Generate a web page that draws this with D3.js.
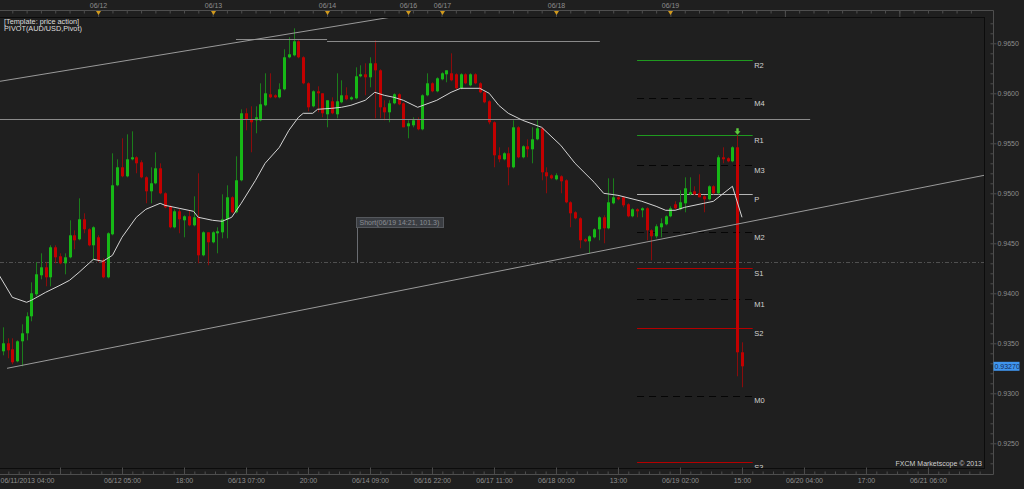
<!DOCTYPE html>
<html>
<head>
<meta charset="utf-8">
<script src="https://cdn.jsdelivr.net/npm/d3@7/dist/d3.min.js"></script>
<style>
html,body{margin:0;padding:0;background:#1f1f1f;overflow:hidden;}
svg{display:block;}
</style>
</head>
<body>
<svg id="chart" width="1024" height="489"></svg>
<script>
// ================= DATA =================
const openPrices = [
0.9353,0.9342,0.9350,0.9344,0.9332,0.9352,0.9360,0.9377,0.9399,0.9418,
0.9426,0.9416,0.9446,0.9437,0.9430,0.9436,0.9458,0.9454,0.9474,0.9464,
0.9448,0.9456,0.9433,0.9416,0.9459,0.9508,0.9526,0.9517,0.9534,0.9536,
0.9531,0.9516,0.9502,0.9510,0.9525,0.9500,0.9487,0.9466,0.9482,0.9473,
0.9477,0.9468,0.9476,0.9438,0.9461,0.9451,0.9460,0.9461,0.9474,0.9496,
0.9481,0.9513,0.9580,0.9574,0.9573,0.9573,0.9588,0.9599,0.9598,0.9596,
0.9604,0.9636,0.9638,0.9652,0.9636,0.9610,0.9587,0.9602,0.9600,0.9579,
0.9592,0.9579,0.9591,0.9598,0.9594,0.9595,0.9617,0.9619,0.9616,0.9630,
0.9623,0.9586,0.9581,0.9590,0.9599,0.9590,0.9567,0.9568,0.9574,0.9564,
0.9598,0.9610,0.9602,0.9614,0.9619,0.9620,0.9619,0.9605,0.9619,0.9608,
0.9619,0.9610,0.9601,0.9592,0.9571,0.9538,0.9534,0.9540,0.9526,0.9566,
0.9536,0.9547,0.9544,0.9554,0.9565,0.9521,0.9518,0.9514,0.9517,0.9513,
0.9491,0.9481,0.9475,0.9454,0.9452,0.9456,0.9464,0.9476,0.9465,0.9490,
0.9496,0.9496,0.9489,0.9477,0.9484,0.9483,0.9485,0.9463,0.9457,0.9466,
0.9469,0.9477,0.9489,0.9484,0.9490,0.9499,0.9502,0.9500,0.9497,0.9494,
0.9507,0.9500,0.9536,0.9535,0.9532,0.9546,0.9341];
const highPrices = [
0.9358,0.9366,0.9355,0.9355,0.9353,0.9369,0.9381,0.9411,0.9431,0.9440,
0.9431,0.9448,0.9448,0.9440,0.9440,0.9473,0.9463,0.9495,0.9480,0.9465,
0.9467,0.9458,0.9435,0.9461,0.9540,0.9534,0.9555,0.9559,0.9562,0.9537,
0.9533,0.9517,0.9526,0.9541,0.9530,0.9501,0.9488,0.9484,0.9485,0.9478,
0.9483,0.9497,0.9520,0.9462,0.9461,0.9462,0.9466,0.9499,0.9508,0.9497,
0.9537,0.9584,0.9585,0.9587,0.9587,0.9610,0.9620,0.9620,0.9599,0.9610,
0.9644,0.9656,0.9665,0.9653,0.9637,0.9611,0.9603,0.9607,0.9600,0.9593,
0.9596,0.9620,0.9613,0.9606,0.9597,0.9626,0.9628,0.9630,0.9636,0.9653,
0.9624,0.9593,0.9593,0.9600,0.9600,0.9591,0.9573,0.9576,0.9576,0.9599,
0.9620,0.9611,0.9616,0.9621,0.9623,0.9640,0.9620,0.9620,0.9620,0.9620,
0.9620,0.9611,0.9602,0.9593,0.9572,0.9546,0.9541,0.9546,0.9573,0.9567,
0.9548,0.9554,0.9566,0.9573,0.9566,0.9526,0.9519,0.9520,0.9518,0.9514,
0.9492,0.9482,0.9476,0.9455,0.9458,0.9465,0.9477,0.9478,0.9515,0.9515,
0.9497,0.9497,0.9490,0.9485,0.9485,0.9486,0.9486,0.9464,0.9469,0.9475,
0.9478,0.9487,0.9492,0.9503,0.9516,0.9516,0.9507,0.9519,0.9498,0.9508,
0.9508,0.9538,0.9546,0.9536,0.9547,0.9558,0.9351];
const lowPrices = [
0.9341,0.9338,0.9335,0.9329,0.9331,0.9327,0.9353,0.9372,0.9397,0.9414,
0.9407,0.9407,0.9430,0.9429,0.9419,0.9435,0.9444,0.9453,0.9460,0.9447,
0.9433,0.9431,0.9415,0.9415,0.9458,0.9507,0.9516,0.9516,0.9533,0.9520,
0.9515,0.9490,0.9490,0.9509,0.9499,0.9485,0.9465,0.9465,0.9460,0.9456,
0.9467,0.9467,0.9430,0.9437,0.9428,0.9450,0.9440,0.9455,0.9455,0.9480,
0.9480,0.9512,0.9563,0.9541,0.9560,0.9572,0.9587,0.9595,0.9595,0.9595,
0.9603,0.9635,0.9637,0.9635,0.9609,0.9582,0.9586,0.9581,0.9576,0.9566,
0.9579,0.9575,0.9590,0.9593,0.9593,0.9594,0.9616,0.9598,0.9606,0.9575,
0.9575,0.9573,0.9571,0.9589,0.9588,0.9566,0.9555,0.9566,0.9563,0.9563,
0.9597,0.9601,0.9601,0.9613,0.9611,0.9612,0.9604,0.9604,0.9609,0.9607,
0.9609,0.9600,0.9590,0.9569,0.9526,0.9531,0.9533,0.9508,0.9525,0.9535,
0.9535,0.9536,0.9530,0.9553,0.9513,0.9500,0.9514,0.9513,0.9500,0.9490,
0.9466,0.9474,0.9445,0.9451,0.9440,0.9455,0.9453,0.9450,0.9464,0.9489,
0.9493,0.9486,0.9476,0.9476,0.9476,0.9476,0.9453,0.9433,0.9455,0.9456,
0.9468,0.9476,0.9484,0.9483,0.9481,0.9498,0.9498,0.9496,0.9481,0.9493,
0.9499,0.9499,0.9530,0.9531,0.9531,0.9317,0.9306];
const closePrices = [
0.9345,0.9350,0.9343,0.9331,0.9352,0.9360,0.9377,0.9400,0.9419,0.9426,
0.9416,0.9446,0.9436,0.9430,0.9436,0.9458,0.9453,0.9474,0.9464,0.9448,
0.9466,0.9433,0.9416,0.9460,0.9508,0.9526,0.9517,0.9534,0.9536,0.9530,
0.9516,0.9502,0.9510,0.9525,0.9500,0.9486,0.9466,0.9482,0.9474,0.9477,
0.9468,0.9476,0.9438,0.9461,0.9451,0.9461,0.9462,0.9474,0.9496,0.9481,
0.9513,0.9580,0.9574,0.9571,0.9576,0.9589,0.9600,0.9596,0.9596,0.9604,
0.9636,0.9639,0.9652,0.9636,0.9610,0.9586,0.9602,0.9600,0.9580,0.9593,
0.9580,0.9592,0.9598,0.9594,0.9596,0.9617,0.9619,0.9616,0.9630,0.9623,
0.9586,0.9581,0.9590,0.9599,0.9589,0.9566,0.9570,0.9573,0.9564,0.9598,
0.9610,0.9602,0.9615,0.9620,0.9623,0.9613,0.9605,0.9619,0.9610,0.9619,
0.9610,0.9601,0.9591,0.9571,0.9538,0.9534,0.9540,0.9526,0.9566,0.9536,
0.9547,0.9544,0.9554,0.9565,0.9521,0.9517,0.9515,0.9518,0.9512,0.9491,
0.9480,0.9475,0.9453,0.9452,0.9457,0.9464,0.9476,0.9465,0.9491,0.9496,
0.9494,0.9488,0.9477,0.9484,0.9482,0.9485,0.9463,0.9457,0.9467,0.9470,
0.9477,0.9485,0.9485,0.9491,0.9505,0.9501,0.9499,0.9496,0.9494,0.9507,
0.9500,0.9536,0.9534,0.9532,0.9546,0.9341,0.9327];

// moving average, sampled at bar indices
const maBars = [0,3,6,7,10,13,15,17,20,22,24,26,29,31,34,35,38,41,42,45,47,49,51,54,56,59,61,63,64,66,67,70,72,74,77,79,81,83,85,88,92,95,97,101,103,105,107,110,114,118,121,125,127,130,135,138,140,142,144,148,150,154,156];
const maValues = [0.9420,0.9396,0.9391,0.9393,0.9401,0.9408,0.9413,0.9421,0.9434,0.9432,0.9438,0.9456,0.9476,0.9484,0.9490,0.9488,0.9485,0.9482,0.9476,0.9473,0.9472,0.9476,0.9490,0.9513,0.9530,0.9546,0.9563,0.9576,0.9580,0.9580,0.9584,0.9585,0.9586,0.9588,0.9593,0.9601,0.9598,0.9596,0.9593,0.9586,0.9593,0.9601,0.9605,0.9605,0.9600,0.9588,0.9580,0.9573,0.9566,0.9548,0.9530,0.9511,0.9500,0.9498,0.9492,0.9487,0.9483,0.9483,0.9486,0.9490,0.9492,0.9507,0.9476];

// pivot levels
const pivotNames = ["R2","M4","R1","M3","P","M2","S1","M1","S2","M0","S3"];
const pivotValues = [0.9633,0.9595,0.9558,0.95283,0.9499,0.94613,0.9425,0.93943,0.9365,0.92976,0.9231];
const pivotFromBar = 134, pivotToBar = 158.25;

// drawn lines (bar, price)
const resistance = {price:0.9574, from:-0.4, to:170.3};
const topLevels = [{price:0.9654, from:49.9, to:69}, {price:0.9652, from:69, to:126.2}];
const upperTrend = [[0.42,0.9612],[82.2,0.9676]];
const lowerTrend = [[1.9,0.9325],[206.8,0.9518]];
const crosshairPrice = 0.9431;
const shortBar = 75.3, shortText = "Short(06/19 14:21, 101.3)";
const arrowBar = 155, arrowPrice = 0.9562;
const currentPrice = 0.93270;

// axes
const dayBars = [21,45,69,86,93,117,141];
const dayLabels = ["06/12","06/13","06/14","06/16","06/17","06/18","06/19"];
const futureDayBars = [165,189];
const timeTickBars = [0,13,26,39,52,65,78,91,104,117,130,143,156,169,182,195];
const timeTickLabels = ["06/11/2013 04:00","","06/12 05:00","18:00","06/13 07:00","20:00","06/14 09:00","06/16 22:00","06/17 11:00","06/18 00:00","13:00","06/19 02:00","15:00","06/20 04:00","17:00","06/21 06:00"];
const priceTicks = [0.9250,0.9300,0.9350,0.9400,0.9450,0.9500,0.9550,0.9600,0.9650];

// ================= RENDER =================
const W = 1024, H = 489;
const PL = 0, PR = 984, PT = 17, PB = 468;
const AXR = 993.5;     // right axis line
const AXT = 10.5;      // top axis line
const AXB = 474.5;     // bottom axis line
const FONT = '"Liberation Sans", Arial, sans-serif';

const x = d3.scaleLinear().domain([0, 206.75]).range([-2, 984]);
const y = d3.scaleLinear().domain([0.92253, 0.96763]).range([PB, PT]);

const svg = d3.select('#chart');
svg.append('rect').attr('width', W).attr('height', H).attr('fill', '#1f1f1f');
svg.append('defs').append('clipPath').attr('id', 'clip')
  .append('rect').attr('x', PL).attr('y', PT).attr('width', PR - PL).attr('height', PB - PT);

const plot = svg.append('g').attr('clip-path', 'url(#clip)');
const sy = v => Math.round(y(v)) + 0.5;

// crosshair dotted line
plot.append('line').attr('x1', PL).attr('x2', PR)
  .attr('y1', sy(crosshairPrice)).attr('y2', sy(crosshairPrice))
  .attr('stroke', '#505050').attr('stroke-dasharray', '4,2,1,2');

// pivot lines
const pivotStyle = n => n[0] === 'R' ? {c:'#1f9a1f', d:null}
  : n[0] === 'S' ? {c:'#b40000', d:null}
  : n[0] === 'P' ? {c:'#b4b4b4', d:null}
  : {c:'#050505', d:'7,5'};
pivotNames.forEach((n, i) => {
  const st = pivotStyle(n);
  plot.append('line')
    .attr('x1', x(pivotFromBar)).attr('x2', x(pivotToBar))
    .attr('y1', sy(pivotValues[i])).attr('y2', sy(pivotValues[i]))
    .attr('stroke', st.c).attr('stroke-width', 1)
    .attr('stroke-dasharray', st.d);
});

// candles
const bars = d3.range(openPrices.length);
const isUp = i => closePrices[i] >= openPrices[i];
plot.append('g').selectAll('line').data(bars).join('line')
  .attr('x1', i => Math.round(x(i)) + 0.5).attr('x2', i => Math.round(x(i)) + 0.5)
  .attr('y1', i => y(highPrices[i])).attr('y2', i => y(lowPrices[i]))
  .attr('stroke', i => isUp(i) ? '#1b7d1b' : '#8a0c0c').attr('stroke-width', 1);
plot.append('g').selectAll('rect').data(bars).join('rect')
  .attr('x', i => Math.round(x(i)) - 1)
  .attr('width', 3)
  .attr('y', i => y(Math.max(openPrices[i], closePrices[i])))
  .attr('height', i => Math.max(1, Math.abs(y(openPrices[i]) - y(closePrices[i]))))
  .attr('fill', i => isUp(i) ? '#16b816' : '#c20000');

// horizontal drawn levels
[resistance, ...topLevels].forEach(l => {
  plot.append('line').attr('x1', x(l.from)).attr('x2', x(l.to))
    .attr('y1', sy(l.price)).attr('y2', sy(l.price))
    .attr('stroke', '#8a8a8a').attr('stroke-width', 1);
});
// trendlines
[upperTrend, lowerTrend].forEach(t => {
  plot.append('line')
    .attr('x1', x(t[0][0])).attr('y1', y(t[0][1]))
    .attr('x2', x(t[1][0])).attr('y2', y(t[1][1]))
    .attr('stroke', '#9a9a9a').attr('stroke-width', 1);
});

// moving average
plot.append('path')
  .datum(d3.range(maBars.length))
  .attr('d', d3.line().x(i => x(maBars[i])).y(i => y(maValues[i])))
  .attr('fill', 'none').attr('stroke', '#d4d4d4').attr('stroke-width', 1);

// short annotation
const sx = Math.round(x(shortBar)) + 0.5;
const syc = sy(crosshairPrice);
plot.append('line').attr('x1', sx).attr('x2', sx).attr('y1', syc - 35).attr('y2', syc)
  .attr('stroke', '#6a6d72');
plot.append('rect').attr('x', sx - 1).attr('y', syc - 45).attr('width', 87).attr('height', 10)
  .attr('fill', '#3a3d42').attr('stroke', '#55585d');
plot.append('text').attr('x', sx + 2).attr('y', syc - 37.5).text(shortText)
  .attr('font-family', FONT).attr('font-size', 7).attr('fill', '#8a8d93');

// arrow marker
const ax = Math.round(x(arrowBar)) + 0.5, ay = y(arrowPrice);
plot.append('path')
  .attr('d', `M${ax-1.2},${ay-3}L${ax+1.2},${ay-3}L${ax+1.2},${ay}L${ax+3},${ay}L${ax},${ay+3.5}L${ax-3},${ay}L${ax-1.2},${ay}Z`)
  .attr('fill', '#5ccc3c');

// pivot labels (clipped by the plot area, like the reference)
pivotNames.forEach((n, i) => {
  plot.append('text').attr('x', x(pivotToBar) + 1.5).attr('y', y(pivotValues[i]) + 7.5)
    .text(n).attr('font-family', FONT).attr('font-size', 7.5).attr('fill', '#d2d2d2');
});

// plot border
svg.append('line').attr('x1', PL).attr('x2', PR + 0.5).attr('y1', PT + 0.5).attr('y2', PT + 0.5).attr('stroke', '#0c0c0c');
svg.append('line').attr('x1', PL).attr('x2', PR + 0.5).attr('y1', PB + 0.5).attr('y2', PB + 0.5).attr('stroke', '#0c0c0c');
svg.append('line').attr('x1', PR + 0.5).attr('x2', PR + 0.5).attr('y1', PT).attr('y2', PB + 1).attr('stroke', '#0c0c0c');

const AXC = '#4e4e4e', LBL = '#8e8e8e';
const styleAxis = g => {
  g.select('.domain').remove();
  g.selectAll('.tick line').attr('stroke', AXC);
  g.selectAll('.tick text').attr('fill', LBL).attr('font-family', FONT).attr('font-size', 7);
};

// right price axis
svg.append('line').attr('x1', AXR).attr('x2', AXR).attr('y1', AXT).attr('y2', AXB).attr('stroke', AXC);
const minorPrice = d3.range(0.9230, 0.9677, 0.001);
svg.append('g').attr('transform', `translate(${AXR},0)`)
  .call(d3.axisLeft(y).tickValues(minorPrice).tickSize(3).tickFormat(''))
  .call(styleAxis);
svg.append('g').attr('transform', `translate(${AXR},0)`)
  .call(d3.axisRight(y).tickValues(priceTicks).tickSize(3).tickPadding(1).tickFormat(d3.format('.4f')))
  .call(styleAxis);

// current price box
const cy = y(currentPrice);
svg.append('rect').attr('x', AXR).attr('y', cy - 4.5).attr('width', 26).attr('height', 9).attr('fill', '#3f95ee');
svg.append('text').attr('x', AXR + 1).attr('y', cy + 2.5).text(d3.format('.5f')(currentPrice))
  .attr('font-family', FONT).attr('font-size', 7).attr('fill', '#152a55');

// bottom time axis
svg.append('line').attr('x1', 0).attr('x2', AXR).attr('y1', AXB).attr('y2', AXB).attr('stroke', AXC);
const minorTime = [];
for (let k = 0; k < timeTickBars.length; k++) for (let s = 1; s < 6; s++) minorTime.push(timeTickBars[k] + s * 13 / 6);
svg.append('g').attr('transform', `translate(0,${AXB})`)
  .call(d3.axisBottom(x).tickValues(minorTime.filter(b => x(b) < AXR)).tickSizeInner(-3).tickSizeOuter(0).tickFormat(''))
  .call(styleAxis);
const bAxis = svg.append('g').attr('transform', `translate(0,${AXB})`)
  .call(d3.axisBottom(x).tickValues(timeTickBars).tickSizeInner(-7).tickSizeOuter(0).tickPadding(4)
    .tickFormat((d, i) => timeTickLabels[i]))
  .call(styleAxis);
bAxis.selectAll('.tick').filter(d => d === timeTickBars[0]).select('text')
  .attr('text-anchor', 'start').attr('x', 2);

// top time axis
svg.append('line').attr('x1', 0).attr('x2', AXR).attr('y1', AXT).attr('y2', AXT).attr('stroke', AXC);
svg.append('g').attr('transform', `translate(0,${AXT})`)
  .call(d3.axisBottom(x).tickValues(d3.range(0, 207, 3)).tickSize(3).tickFormat(''))
  .call(styleAxis);
svg.append('g').attr('transform', `translate(0,${AXT})`)
  .call(d3.axisBottom(x).tickValues(dayBars.concat(futureDayBars)).tickSize(PT - AXT).tickFormat(''))
  .call(styleAxis);
dayBars.forEach((b, i) => {
  const cx = Math.round(x(b)) + 0.5;
  svg.append('text').attr('x', cx).attr('y', 7.5).attr('text-anchor', 'middle').text(dayLabels[i])
    .attr('font-family', FONT).attr('font-size', 7).attr('fill', LBL);
  svg.append('path').attr('d', `M${cx-2.5},${AXT+0.5}L${cx+2.5},${AXT+0.5}L${cx},${AXT+4.5}Z`).attr('fill', '#d29a1c');
});

// legend and credit
svg.append('text').attr('x', 4).attr('y', 23.5).text('[Template: price action]')
  .attr('font-family', FONT).attr('font-size', 7.3).attr('fill', '#dedede');
svg.append('text').attr('x', 4).attr('y', 31).text('PIVOT(AUD/USD,Pivot)')
  .attr('font-family', FONT).attr('font-size', 7.3).attr('fill', '#dedede');
svg.append('text').attr('x', 982).attr('y', 466).attr('text-anchor', 'end').text('FXCM Marketscope © 2013')
  .attr('font-family', FONT).attr('font-size', 7).attr('fill', '#cfcfcf');
</script>
</body>
</html>
